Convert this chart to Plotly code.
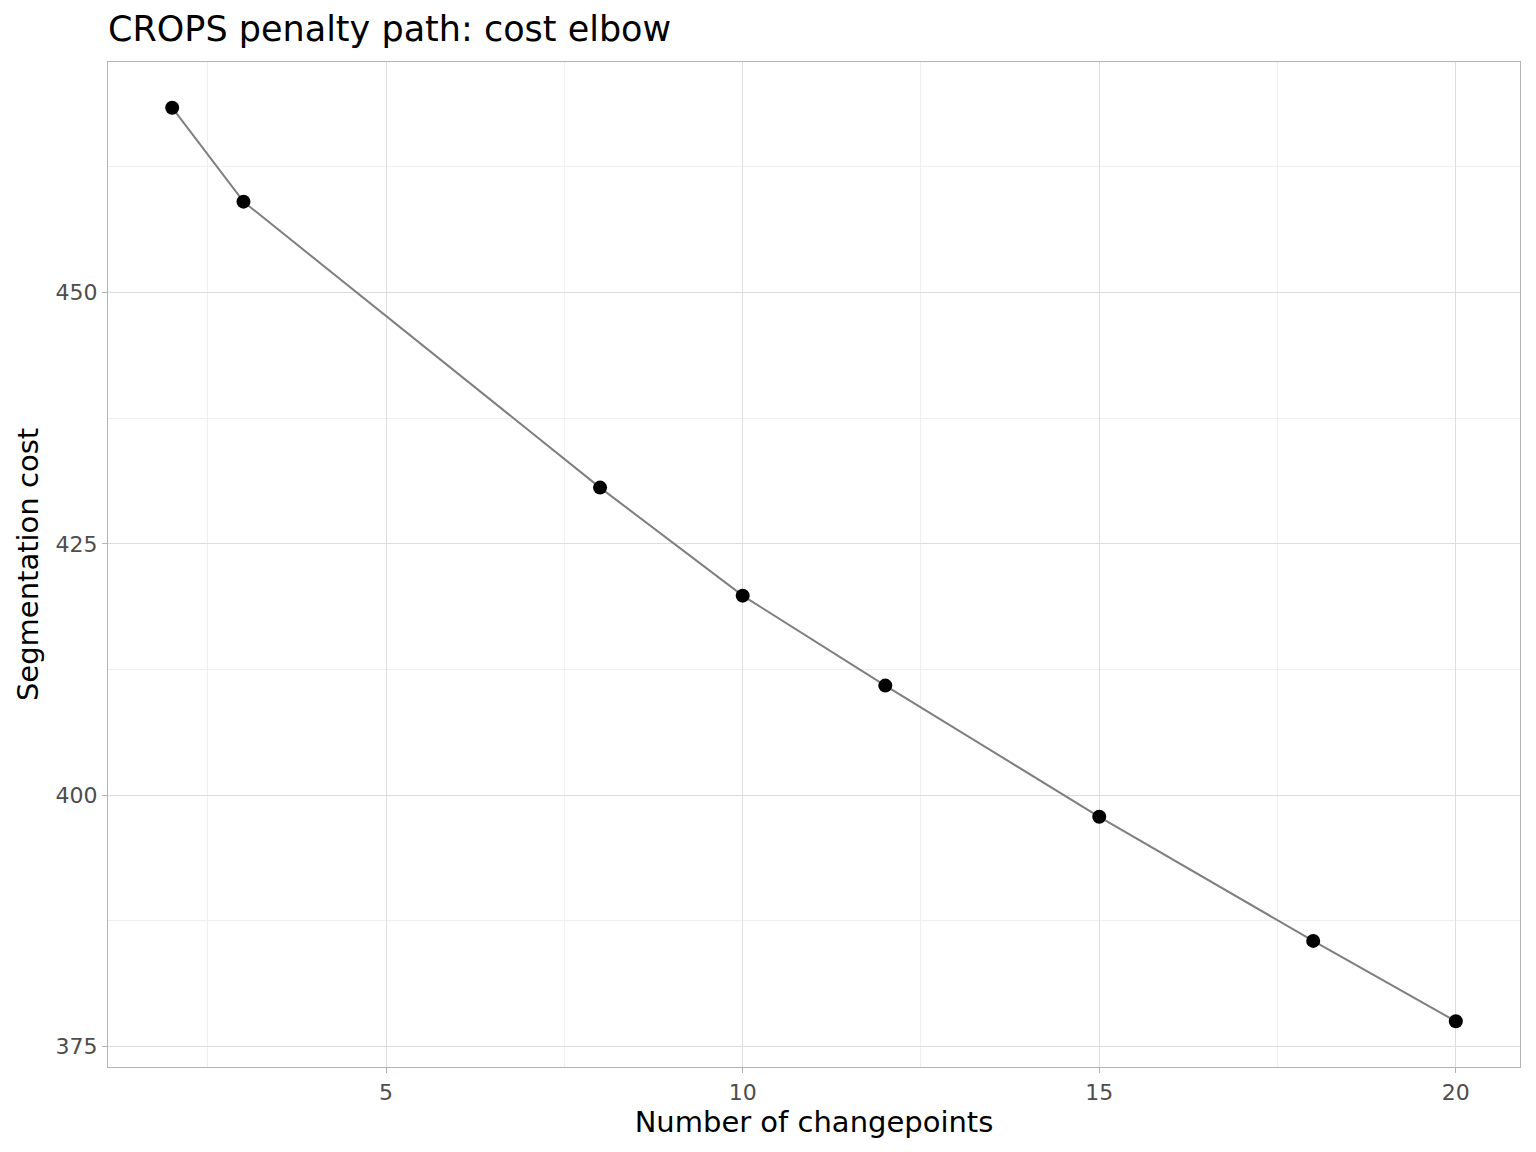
import plotly.graph_objects as go

n_changepoints = [2, 3, 8, 10, 12, 15, 18, 20]
seg_cost = [468.4, 459.05, 430.6, 419.85, 410.9, 397.85, 385.5, 377.5]

x_ticks = [5, 10, 15, 20]
y_ticks = [375, 400, 425, 450]

fig = go.Figure()
fig.add_trace(go.Scatter(
    x=n_changepoints, y=seg_cost, mode="lines",
    line=dict(color="#7F7F7F", width=2), hoverinfo="skip", showlegend=False))
fig.add_trace(go.Scatter(
    x=n_changepoints, y=seg_cost, mode="markers",
    marker=dict(color="black", size=14), showlegend=False))

xr = (min(n_changepoints), max(n_changepoints))
yr = (min(seg_cost), max(seg_cost))
xpad = (xr[1] - xr[0]) * 0.05
ypad = (yr[1] - yr[0]) * 0.05

axis_common = dict(
    showline=True, linecolor="#B3B3B3", linewidth=1.3, mirror=True,
    showgrid=True, gridcolor="#DEDEDE", gridwidth=1.2,
    ticks="outside", ticklen=5, tickcolor="#B3B3B3", tickwidth=1.3,
    tickfont=dict(family="DejaVu Sans", size=22, color="#4D4D4D"),
    zeroline=False,
)

fig.update_xaxes(
    **axis_common, range=[xr[0] - xpad, xr[1] + xpad],
    tickvals=x_ticks, ticktext=[str(v) for v in x_ticks],
    minor=dict(tickvals=[2.5, 7.5, 12.5, 17.5], showgrid=True, gridcolor="#EFEFEF", gridwidth=0.8, ticks=""),
    title=dict(text="Number of changepoints", font=dict(family="DejaVu Sans", size=29, color="black"), standoff=6),
)
fig.update_yaxes(
    **axis_common, range=[yr[0] - ypad, yr[1] + ypad],
    tickvals=y_ticks, ticktext=[str(v) for v in y_ticks],
    minor=dict(tickvals=[387.5, 412.5, 437.5, 462.5], showgrid=True, gridcolor="#EFEFEF", gridwidth=0.8, ticks=""),
    title=dict(text="Segmentation cost", font=dict(family="DejaVu Sans", size=29, color="black"), standoff=8),
)

fig.update_layout(
    width=1536, height=1152,
    margin=dict(l=108, r=16, t=62, b=85),
    plot_bgcolor="white", paper_bgcolor="white",
    title=dict(text="CROPS penalty path: cost elbow", x=108/1536, xanchor="left", xref="container",
               y=1 - 29/1152, yanchor="middle", yref="container",
               font=dict(family="DejaVu Sans", size=35, color="black")),
    font=dict(family="DejaVu Sans"),
)

fig.write_html("out.html")
